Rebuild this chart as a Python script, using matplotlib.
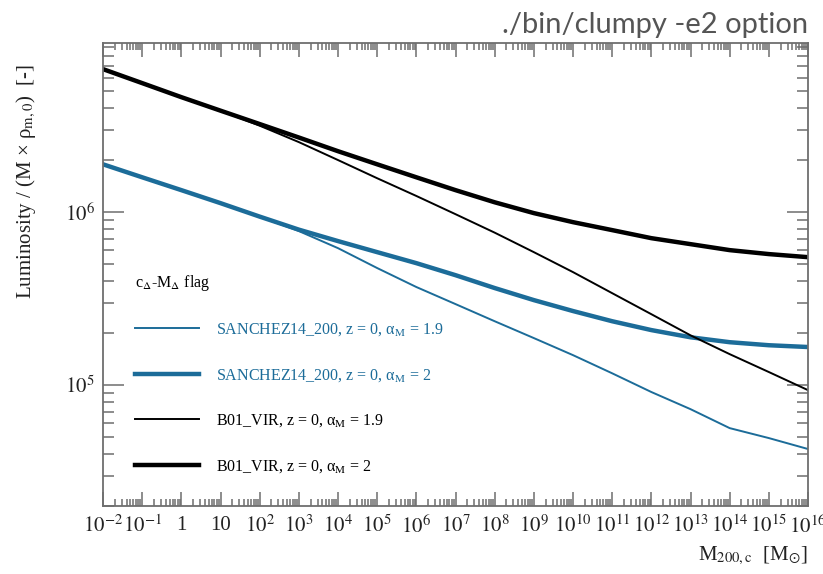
import matplotlib
matplotlib.use("Agg")
import matplotlib.pyplot as plt
import numpy as np
from matplotlib.ticker import FixedLocator, FuncFormatter, LogLocator, NullFormatter

plt.rcParams['font.family'] = ['Liberation Serif', 'DejaVu Serif']
plt.rcParams['mathtext.fontset'] = 'stix'

# halo mass M200,c [Msun], one point per decade
mass = [1e-2, 1e-1, 1, 1e1, 1e2, 1e3, 1e4, 1e5, 1e6, 1e7, 1e8,
        1e9, 1e10, 1e11, 1e12, 1e13, 1e14, 1e15, 1e16]

# luminosity / (M x rho_m,0)
sanchez_19 = [1.89e6, 1.59e6, 1.34e6, 1.127e6, 9.42e5, 7.77e5, 6.19e5, 4.75e5, 3.69e5, 2.94e5,
              2.34e5, 1.87e5, 1.49e5, 1.17e5, 9.12e4, 7.26e4, 5.64e4, 4.94e4, 4.27e4]
sanchez_2 = [1.89e6, 1.59e6, 1.34e6, 1.127e6, 9.42e5, 7.92e5, 6.80e5, 5.87e5, 5.07e5, 4.32e5,
             3.64e5, 3.10e5, 2.68e5, 2.34e5, 2.08e5, 1.89e5, 1.77e5, 1.70e5, 1.66e5]
b01_19 = [6.71e6, 5.57e6, 4.62e6, 3.86e6, 3.16e6, 2.54e6, 2.00e6, 1.57e6, 1.24e6, 9.73e5,
          7.61e5, 5.87e5, 4.50e5, 3.40e5, 2.57e5, 1.94e5, 1.51e5, 1.19e5, 9.35e4]
b01_2 = [6.71e6, 5.57e6, 4.62e6, 3.86e6, 3.23e6, 2.70e6, 2.25e6, 1.89e6, 1.59e6, 1.34e6,
         1.14e6, 9.87e5, 8.75e5, 7.87e5, 7.07e5, 6.53e5, 6.03e5, 5.72e5, 5.49e5]

labels = ['SANCHEZ14_200, z = 0, α$_{\\rm M}$ = 1.9',
          'SANCHEZ14_200, z = 0, α$_{\\rm M}$ = 2',
          'B01_VIR, z = 0, α$_{\\rm M}$ = 1.9',
          'B01_VIR, z = 0, α$_{\\rm M}$ = 2']

blue = '#1c6c99'
grey = '#6e6e6e'

fig = plt.figure(figsize=(8.23, 5.74), dpi=100)
ax = fig.add_axes([103/823, 1-506/574, 705/823, 463/574])

ax.plot(mass, sanchez_19, color=blue, lw=1.4, label=labels[0], solid_joinstyle='round')
ax.plot(mass, sanchez_2, color=blue, lw=3.2, label=labels[1], solid_joinstyle='round')
ax.plot(mass, b01_19, color='black', lw=1.4, label=labels[2], solid_joinstyle='round')
ax.plot(mass, b01_2, color='black', lw=3.2, label=labels[3], solid_joinstyle='round')

ax.set_xscale('log')
ax.set_yscale('log')
ax.set_xlim(1e-2, 1e16)
ax.set_ylim(2.0e4, 9.5e6)

ax.xaxis.set_major_locator(FixedLocator([10.0**k for k in range(-2, 17)]))
ax.xaxis.set_minor_locator(LogLocator(base=10, subs=np.arange(2, 10), numticks=40))
ax.xaxis.set_minor_formatter(NullFormatter())


def xfmt(v, pos):
    k = int(round(np.log10(v)))
    if k == 0:
        return '1'
    if k == 1:
        return '10'
    return r'$10^{%d}$' % k


ax.xaxis.set_major_formatter(FuncFormatter(xfmt))
ax.yaxis.set_major_locator(FixedLocator([1e5, 1e6]))
ax.yaxis.set_minor_locator(LogLocator(base=10, subs=np.arange(2, 10), numticks=20))
ax.yaxis.set_minor_formatter(NullFormatter())
ax.yaxis.set_major_formatter(FuncFormatter(lambda v, p: r'$10^{%d}$' % int(round(np.log10(v)))))

for s in ax.spines.values():
    s.set_color(grey)
    s.set_linewidth(1.3)

ax.tick_params(axis='both', which='both', direction='in', top=True, right=True,
               color=grey, width=1.1, labelsize=15, labelcolor='#222222')
ax.tick_params(axis='x', which='major', length=10, pad=7)
ax.tick_params(axis='x', which='minor', length=5)
ax.tick_params(axis='y', which='major', length=15, pad=6)
ax.tick_params(axis='y', which='minor', length=8)

ax.set_ylabel('Luminosity / (M × ρ$_{\\rm m,0}$)  [-]', fontsize=15, color='#222222')
ax.yaxis.set_label_coords(-0.092, 0.70)
ax.set_xlabel(r'M$_{\rm 200,c}$  [M$_{\odot}$]', fontsize=15, color='#222222', ha='right')
ax.xaxis.set_label_coords(1.0, -0.085)

leg = ax.legend(loc='upper left', bbox_to_anchor=(0.025, 0.535), frameon=False,
                title=r'c$_{\Delta}$-M$_{\Delta}$ flag', title_fontsize=11.5,
                fontsize=11.5, handlelength=4.0, handletextpad=1.05,
                labelspacing=1.8, alignment='left',
                labelcolor=[blue, blue, 'black', 'black'])

fig.text(808/823, 1-33/574, './bin/clumpy -e2 option', ha='right', va='baseline',
         fontsize=21, color='#555555', family='Lato')

fig.savefig('out.png', dpi=100)
